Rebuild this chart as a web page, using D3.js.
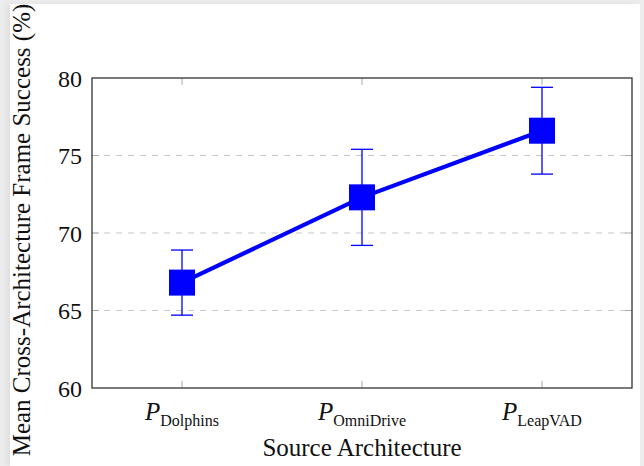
<!DOCTYPE html>
<html>
<head>
<meta charset="utf-8">
<script src="https://cdn.jsdelivr.net/npm/d3@7"></script>
<style>
  html, body { margin: 0; padding: 0; }
  body { width: 644px; height: 466px; background: #ededed; overflow: hidden; position: relative; }
  #page { position: absolute; left: 10px; top: 4px; width: 630px; height: 462px; background: #fff;
          box-shadow: -4px 0 6px rgba(0,0,0,0.06); }
  svg { position: absolute; left: 0; top: 0; }
  text { font-family: "Liberation Serif", "DejaVu Serif", serif; fill: #111; }
</style>
</head>
<body>
<div id="page"></div>
<svg id="chart" width="644" height="466"></svg>
<script>
// Data
const categories = ["Dolphins", "OmniDrive", "LeapVAD"];
const meanValues = [66.8, 72.3, 76.6];
const errorValues = [2.1, 3.1, 2.8];
const yTicks = [60, 65, 70, 75, 80];
const gridTicks = [65, 70, 75];

const svg = d3.select("#chart");
const margin = { left: 92, right: 12, top: 78, bottom: 78 };
const width = 644, height = 466;

const x = d3.scaleLinear().domain([-0.5, categories.length - 0.5]).range([margin.left, width - margin.right]);
const y = d3.scaleLinear().domain([60, 80]).range([height - margin.bottom, margin.top]);

const blue = "#0000ff";

// Grid lines
svg.append("g")
  .selectAll("line")
  .data(gridTicks)
  .join("line")
  .attr("x1", margin.left).attr("x2", width - margin.right)
  .attr("y1", d => y(d)).attr("y2", d => y(d))
  .attr("stroke", "#c8c8c8")
  .attr("stroke-width", 1.2)
  .attr("stroke-dasharray", "6,6");

// Inner ticks (gray), pgfplots style
const tickLen = 7;
const tickG = svg.append("g").attr("stroke", "#aaaaaa").attr("stroke-width", 1);
categories.forEach((c, i) => {
  tickG.append("line").attr("x1", x(i)).attr("x2", x(i)).attr("y1", y(60)).attr("y2", y(60) - tickLen);
  tickG.append("line").attr("x1", x(i)).attr("x2", x(i)).attr("y1", y(80)).attr("y2", y(80) + tickLen);
});
yTicks.slice(1, -1).forEach(t => {
  tickG.append("line").attr("x1", margin.left).attr("x2", margin.left + tickLen).attr("y1", y(t)).attr("y2", y(t));
  tickG.append("line").attr("x1", width - margin.right).attr("x2", width - margin.right - tickLen).attr("y1", y(t)).attr("y2", y(t));
});

// Y axis labels
const yAxis = d3.axisLeft(y).tickValues(yTicks).tickSize(0).tickPadding(10).tickFormat(d3.format("d"));
const yg = svg.append("g").attr("transform", `translate(${margin.left},0)`).call(yAxis);
yg.select(".domain").remove();
yg.selectAll("text").style("font-size", "24px").attr("fill", "#111").attr("dy", "0.34em");

// X axis labels: P with subscript
const xl = svg.append("g");
categories.forEach((c, i) => {
  const t = xl.append("text")
    .attr("x", x(i))
    .attr("y", y(60) + 32)
    .attr("text-anchor", "middle");
  t.append("tspan").attr("font-style", "italic").style("font-size", "25px").text("P");
  t.append("tspan").attr("dy", 6).style("font-size", "16px").text(c);
});

// Axis titles
svg.append("text")
  .attr("x", x(1)).attr("y", 456)
  .attr("text-anchor", "middle")
  .style("font-size", "25px")
  .text("Source Architecture");

svg.append("text")
  .attr("transform", `translate(30, ${(3 + 457) / 2}) rotate(-90)`)
  .attr("text-anchor", "middle")
  .style("font-size", "25px")
  .text("Mean Cross-Architecture Frame Success (%)");

// Line
const line = d3.line().x((d, i) => x(i)).y(d => y(d));
svg.append("path")
  .datum(meanValues)
  .attr("fill", "none")
  .attr("stroke", blue)
  .attr("stroke-width", 4.2)
  .attr("d", line);

// Error bars
const capW = 11;
const eb = svg.append("g").attr("stroke", blue).attr("stroke-width", 1.3);
meanValues.forEach((m, i) => {
  const e = errorValues[i];
  eb.append("line").attr("x1", x(i)).attr("x2", x(i)).attr("y1", y(m - e)).attr("y2", y(m + e));
  eb.append("line").attr("x1", x(i) - capW).attr("x2", x(i) + capW).attr("y1", y(m + e)).attr("y2", y(m + e));
  eb.append("line").attr("x1", x(i) - capW).attr("x2", x(i) + capW).attr("y1", y(m - e)).attr("y2", y(m - e));
});

// Square markers
const sq = 26;
svg.append("g")
  .selectAll("rect")
  .data(meanValues)
  .join("rect")
  .attr("x", (d, i) => x(i) - sq / 2)
  .attr("y", d => y(d) - sq / 2)
  .attr("width", sq).attr("height", sq)
  .attr("fill", blue);

// Frame
svg.append("rect")
  .attr("x", margin.left).attr("y", margin.top)
  .attr("width", width - margin.left - margin.right)
  .attr("height", height - margin.top - margin.bottom)
  .attr("fill", "none")
  .attr("stroke", "#333")
  .attr("stroke-width", 1.3);
</script>
</body>
</html>
